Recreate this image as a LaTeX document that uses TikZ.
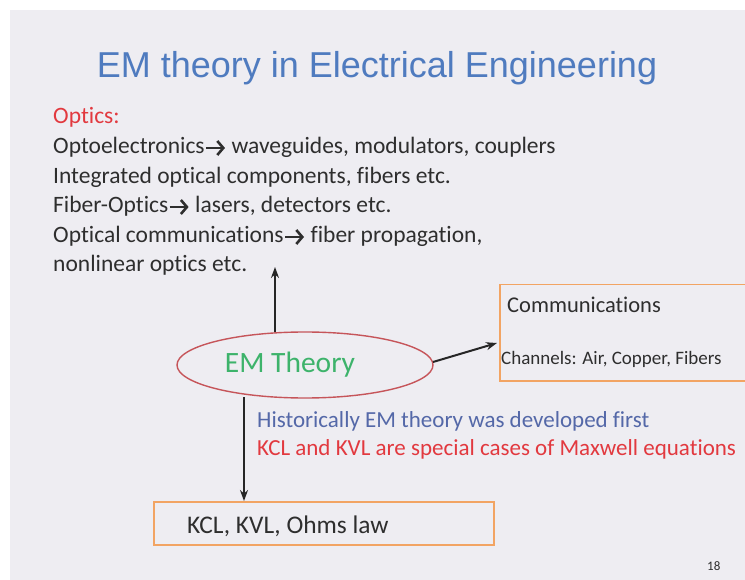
\documentclass[tikz,border=0pt]{standalone}
\usepackage{fontspec}
\setmainfont[Ligatures={NoCommon}]{Carlito}
\newfontfamily\titlefont{Liberation Sans}
\usetikzlibrary{shapes.geometric,arrows.meta}
\definecolor{slidebg}{HTML}{EEEDF2}
\definecolor{titleblue}{HTML}{4F7BBF}
\definecolor{optred}{HTML}{E2393F}
\definecolor{bodygray}{HTML}{2E2E2E}
\definecolor{emgreen}{HTML}{3DB36B}
\definecolor{histblue}{HTML}{5468A8}
\definecolor{boxorange}{HTML}{F2A463}
\definecolor{ellred}{HTML}{C6555A}
\newcommand{\rarr}{\tikz[baseline=0pt,x=1pt,y=1pt]{\draw[line width=2.6pt, bodygray, -{Straight Barb[length=6pt,width=14pt,line width=2.6pt]}] (0,6) -- (19,6);}}
\tikzset{
  txt/.style={anchor=base west, inner sep=0pt, text=bodygray},
  body/.style={txt, font=\fontsize{23.5}{29}\selectfont},
  arr/.style={-{Stealth[length=11pt,width=8pt]}, line width=2pt, draw=black!85},
  obox/.style={draw=boxorange, line width=1.5pt, inner sep=0pt}
}
\begin{document}
\begin{tikzpicture}[x=1pt,y=-1pt]
\useasboundingbox (0,0) rectangle (745,580);
\fill[white] (0,0) rectangle (745,580);
\fill[slidebg] (10,10) rectangle (745,580);
% title
\node[anchor=base, inner sep=0pt, text=titleblue, font=\titlefont\fontsize{36}{40}\selectfont] (title) at (377,78) {EM theory in Electrical Engineering};
% optics
\node[body, text=optred] (opt0) at (53,124) {Optics:};
\node[body] (opt1) at (53,154) {Optoelectronics\rarr\ waveguides, modulators, couplers};
\node[body] (opt2) at (53,184) {Integrated optical components, fibers etc.};
\node[body] (opt3) at (53,213) {Fiber-Optics\rarr\ lasers, detectors etc.};
\node[body] (opt4) at (53,243) {Optical communications\rarr\ fiber propagation,};
\node[body] (opt5) at (53,272) {nonlinear optics etc.};
% EM theory ellipse
\node[ellipse, draw=ellred, line width=1.4pt, minimum width=256pt, minimum height=66pt, inner sep=0pt] (em) at (305,365) {};
\node[txt, text=emgreen, font=\fontsize{29.5}{33}\selectfont, anchor=base] (emtext) at (290,373) {EM Theory};
% communications box
\node[obox, minimum width=270pt, minimum height=96pt, anchor=north west] (comm) at (499,284) {};
\node[txt, font=\fontsize{22.5}{26}\selectfont] (commt) at (507,313) {Communications};
\node[txt, font=\fontsize{19}{22}\selectfont] (chan) at (501,364) {Channels: Air, Copper, Fibers};
% KCL box
\node[obox, minimum width=340pt, minimum height=43pt, anchor=north west] (kcl) at (153,501) {};
\node[txt, font=\fontsize{25.4}{29}\selectfont] (kclt) at (187,533) {KCL, KVL, Ohms law};
% notes
\node[txt, text=histblue, font=\fontsize{23}{27}\selectfont] (hist) at (257,427) {Historically EM theory was developed first};
\node[txt, text=optred, font=\fontsize{23}{27}\selectfont] (maxw) at (257,455) {KCL and KVL are special cases of Maxwell equations};
% page number
\node[txt, font=\fontsize{13}{15}\selectfont] (pg) at (707,570) {18};
% connectors
\coordinate (upstart) at (275,332);
\coordinate (uptip) at (275,267);
\draw[arr] (upstart) -- (uptip);
\coordinate (rstart) at (433,362);
\coordinate (rtip) at (497,343);
\draw[arr] (rstart) -- (rtip);
\coordinate (dstart) at (244,397);
\draw[arr] (dstart) -- (dstart |- kcl.north);
\end{tikzpicture}
\end{document}
